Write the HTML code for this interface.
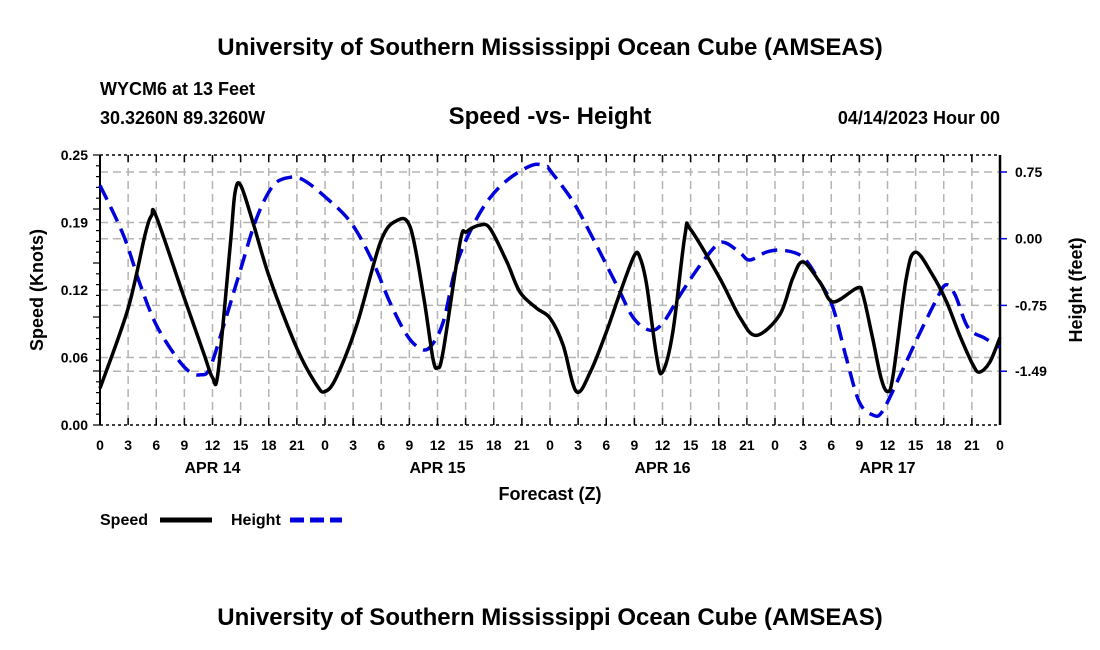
<!DOCTYPE html>
<html><head><meta charset="utf-8"><style>
html,body{margin:0;padding:0;background:#fff;width:1100px;height:650px;overflow:hidden}
svg text{font-family:"Liberation Sans",sans-serif;font-weight:bold;fill:#000}
</style></head><body>
<svg id="chart" width="1100" height="650" viewBox="0 0 1100 650" xmlns="http://www.w3.org/2000/svg">
<text x="550" y="55" font-size="24" text-anchor="middle">University of Southern Mississippi Ocean Cube (AMSEAS)</text>
<text x="100" y="95" font-size="18">WYCM6 at 13 Feet</text>
<text x="100" y="124" font-size="18">30.3260N  89.3260W</text>
<text x="550" y="124" font-size="24" text-anchor="middle">Speed -vs- Height</text>
<text x="1000" y="124" font-size="18" text-anchor="end">04/14/2023 Hour 00</text>
<g id="grid"></g>
<g id="axes"></g>
<g id="series"></g>
<text transform="translate(43,290) rotate(-90)" font-size="18" text-anchor="middle">Speed (Knots)</text>
<text transform="translate(1082,290) rotate(-90)" font-size="18" text-anchor="middle">Height (feet)</text>
<text x="550" y="500" font-size="18" text-anchor="middle">Forecast (Z)</text>
<g>
<text x="100" y="525" font-size="16">Speed</text>
<line x1="160" y1="520" x2="212" y2="520" stroke="#000" stroke-width="5"/>
<text x="231" y="525" font-size="16">Height</text>
<line x1="290" y1="520" x2="342" y2="520" stroke="#0000dd" stroke-width="5" stroke-dasharray="14,6"/>
</g>
<text x="550" y="625" font-size="24" text-anchor="middle">University of Southern Mississippi Ocean Cube (AMSEAS)</text>
</svg>
<script>
const speedHours=[0,3,4.8,5.5,6,8.9,11,12,12.6,13.9,14.4,15,16.3,18.1,21,23.1,24,25.2,27.4,29.9,31.6,33.1,34.5,35.5,36,36.6,38.4,39.1,40.5,41.6,43.4,44.8,46.6,48,49.4,50.8,52.3,54,55.5,57,57.6,58.3,59.4,60,61.1,62.4,63,66.1,68.3,70,72.5,73.9,75,76.8,78.2,80.8,81.4,82.4,83.3,84,84.6,86,87,88.8,90.3,91.7,93.1,93.8,94.9,96];
const speedValues=[0.034,0.108,0.176,0.194,0.193,0.120,0.068,0.044,0.049,0.167,0.215,0.222,0.188,0.136,0.071,0.037,0.031,0.044,0.093,0.169,0.189,0.183,0.120,0.062,0.053,0.068,0.169,0.179,0.185,0.182,0.151,0.123,0.108,0.099,0.074,0.031,0.049,0.086,0.123,0.157,0.155,0.130,0.062,0.049,0.086,0.176,0.181,0.136,0.099,0.083,0.102,0.136,0.151,0.132,0.114,0.127,0.120,0.081,0.044,0.031,0.046,0.136,0.160,0.139,0.114,0.083,0.056,0.049,0.058,0.081];
const heightHours=[0,2.5,4.3,6,8.2,9.6,10.7,11.7,13.2,14.9,16.7,18.5,20.3,21.7,23.8,26.7,29.1,30.9,32.7,34.1,35.2,36.6,38,39.8,41.6,43.7,46.2,47.6,48,50.5,52.6,55.1,56.9,58.7,60.1,61.9,64,65.8,66.8,68.3,69.3,71.1,72.9,75,76.8,78.2,79.6,81,82.4,83.4,85.2,87,89.1,90.2,91.2,92.6,94.4,96];
const heightValues=[0.60,0.04,-0.52,-0.97,-1.34,-1.50,-1.53,-1.46,-0.97,-0.38,0.23,0.60,0.69,0.66,0.49,0.19,-0.26,-0.71,-1.08,-1.23,-1.22,-0.94,-0.30,0.15,0.46,0.68,0.83,0.81,0.77,0.41,0.00,-0.52,-0.89,-1.03,-0.94,-0.63,-0.30,-0.07,-0.05,-0.16,-0.24,-0.15,-0.13,-0.21,-0.49,-0.78,-1.34,-1.84,-1.98,-1.95,-1.57,-1.16,-0.71,-0.52,-0.63,-1.00,-1.12,-1.22];
const xTickLabels=["0","3","6","9","12","15","18","21","0","3","6","9","12","15","18","21","0","3","6","9","12","15","18","21","0","3","6","9","12","15","18","21","0"];
const dateLabels=["APR 14","APR 15","APR 16","APR 17"];
const dateHours=[12,36,60,84];
const leftTicks=[0,0.0625,0.125,0.1875,0.25];
const leftTickLabels=["0.00","0.06","0.12","0.19","0.25"];
const rightTicks=[0.75,0,-0.75,-1.49];
const rightTickLabels=["0.75","0.00","-0.75","-1.49"];

const L=100,R=1000,T=155,B=425;
const xs=h=>L+(R-L)*h/96;
const yS=v=>B-(B-T)*v/0.25;
const yH=v=>172-(v-0.75)*(66.7/0.75);
const NS="http://www.w3.org/2000/svg";
function mk(tag,attrs,parent){const e=document.createElementNS(NS,tag);for(const k in attrs)e.setAttribute(k,attrs[k]);parent.appendChild(e);return e;}
const grid=document.getElementById('grid'),axes=document.getElementById('axes'),series=document.getElementById('series');
const gs={stroke:"#b4b4b4","stroke-width":1.5,"stroke-dasharray":"8,5"};
for(let i=1;i<32;i++){const l=mk('line',Object.assign({x1:xs(i*3),x2:xs(i*3),y1:T,y2:B},gs),grid);

}
leftTicks.slice(1,-1).forEach(v=>{const l=mk('line',Object.assign({x1:L,x2:R,y1:yS(v),y2:yS(v)},gs),grid);

});
rightTicks.forEach(v=>{const l=mk('line',Object.assign({x1:L,x2:R,y1:yH(v),y2:yH(v)},gs),grid);

});
// axes frame
mk('line',{x1:L,x2:L,y1:T,y2:B,stroke:"#000","stroke-width":2},axes);
mk('line',{x1:R,x2:R,y1:T,y2:B,stroke:"#000","stroke-width":2.5},axes);
mk('line',{x1:L,x2:R,y1:T,y2:T,stroke:"#000","stroke-width":1.5,"stroke-dasharray":"3,3"},axes);
mk('line',{x1:L,x2:R,y1:B,y2:B,stroke:"#000","stroke-width":1.5,"stroke-dasharray":"3,3"},axes);
xTickLabels.forEach((t,i)=>{const x=xs(i*3);
mk('line',{x1:x,x2:x,y1:B,y2:B-7,stroke:"#000","stroke-width":1.5},axes);
mk('line',{x1:x,x2:x,y1:T,y2:T+7,stroke:"#000","stroke-width":1.5},axes);
const tx=mk('text',{x:x,y:450,"font-size":14,"text-anchor":"middle"},axes);tx.textContent=t;

});
dateLabels.forEach((d,i)=>{const tx=mk('text',{x:xs(dateHours[i]),y:473,"font-size":16,"text-anchor":"middle"},axes);tx.textContent=d;

});
for(let i=0;i<=25;i++){const y=B-(B-T)*i/25;mk('line',{x1:L,x2:L-(i%5?4:7),y1:y,y2:y,stroke:"#000","stroke-width":1.2},axes);}
leftTicks.forEach((v,i)=>{const tx=mk('text',{x:88,y:yS(v)+5,"font-size":14,"text-anchor":"end"},axes);tx.textContent=leftTickLabels[i];

});
rightTicks.forEach((v,i)=>{mk('line',{x1:R,x2:R+7,y1:yH(v),y2:yH(v),stroke:"#0000dd","stroke-width":1.5},axes);
const tx=mk('text',{x:1015,y:yH(v)+5,"font-size":14},axes);tx.textContent=rightTickLabels[i];

});
function smooth(pts){let d="M"+pts[0][0]+","+pts[0][1];
for(let i=0;i<pts.length-1;i++){const p0=pts[Math.max(0,i-1)],p1=pts[i],p2=pts[i+1],p3=pts[Math.min(pts.length-1,i+2)];
const c1=[p1[0]+(p2[0]-p0[0])/6,p1[1]+(p2[1]-p0[1])/6],c2=[p2[0]-(p3[0]-p1[0])/6,p2[1]-(p3[1]-p1[1])/6];
d+=" C"+c1[0].toFixed(1)+","+c1[1].toFixed(1)+" "+c2[0].toFixed(1)+","+c2[1].toFixed(1)+" "+p2[0].toFixed(1)+","+p2[1].toFixed(1);}
return d;}
const hp=mk('path',{d:smooth(heightHours.map((h,i)=>[xs(h),yH(heightValues[i])])),fill:"none",stroke:"#0000dd","stroke-width":3.5,"stroke-dasharray":"16,8"},series);


const sp=mk('path',{d:smooth(speedHours.map((h,i)=>[xs(h),yS(speedValues[i])])),fill:"none",stroke:"#000","stroke-width":3.5,"stroke-linejoin":"round"},series);


</script>
</body></html>
